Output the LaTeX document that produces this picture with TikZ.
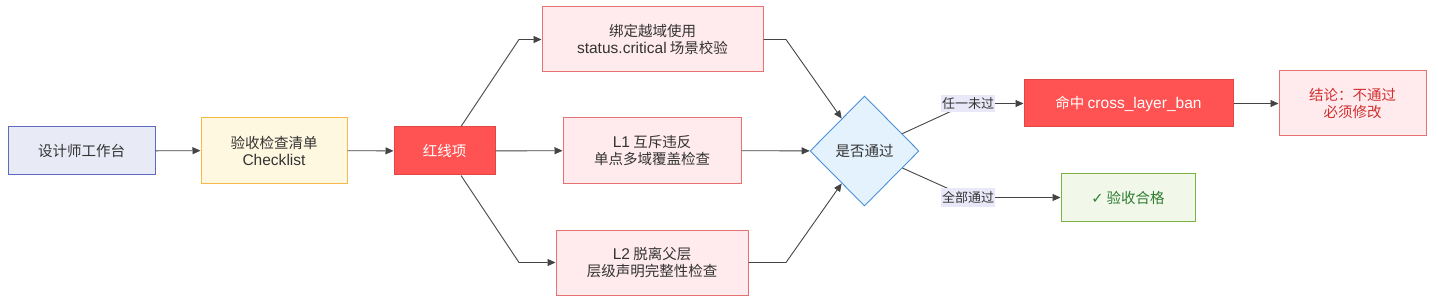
\documentclass[tikz,border=0pt]{standalone}
\usepackage{fontspec}
\setmainfont{Noto Sans CJK SC}
\newfontfamily\symfont{DejaVu Sans}
\newfontfamily\latin[Scale=1.07]{Liberation Sans}
\usetikzlibrary{shapes.geometric,arrows.meta}
\definecolor{deskfill}{HTML}{E8EAF6}
\definecolor{deskline}{HTML}{5C6BC0}
\definecolor{listfill}{HTML}{FFF8E1}
\definecolor{listline}{HTML}{F9B949}
\definecolor{banfill}{HTML}{FF5252}
\definecolor{banline}{HTML}{E04848}
\definecolor{chkfill}{HTML}{FFEBEE}
\definecolor{chkline}{HTML}{E57373}
\definecolor{decfill}{HTML}{E3F2FD}
\definecolor{decline}{HTML}{4A90D9}
\definecolor{okfill}{HTML}{F1F8E9}
\definecolor{okline}{HTML}{7CB342}
\definecolor{oktext}{HTML}{2E7D32}
\definecolor{failtext}{HTML}{D32F2F}
\definecolor{lblfill}{HTML}{E8E8F8}
\definecolor{edgeline}{HTML}{444444}
\tikzset{
  box/.style={rectangle, line width=1pt, align=center, inner sep=0pt,
    font=\fontsize{14.5}{17}\selectfont, text=black!80},
  flow/.style={draw=edgeline, line width=0.9pt, -{Triangle[length=8pt,width=7pt]}},
  edgelbl/.style={fill=lblfill, inner xsep=1pt, inner ysep=3pt,
    font=\fontsize{13}{15}\selectfont, text=black!80}
}
\begin{document}
\begin{tikzpicture}[x=1pt,y=-1pt]
        \useasboundingbox (0,0) rectangle (1438,302);
        % Main line
        \node[box, fill=deskfill, draw=deskline, minimum width=147pt, minimum height=48pt] (desk) at (81.5,151) {设计师工作台};
        \node[box, fill=listfill, draw=listline, minimum width=146pt, minimum height=65pt] (list) at (274,150.5) {验收检查清单\\{\latin Checklist}};
        \node[box, fill=banfill, draw=banline, text=white, minimum width=101pt, minimum height=48pt] (red) at (444.5,151) {红线项};
        % Checks
        \node[box, fill=chkfill, draw=chkline, minimum width=221pt, minimum height=65pt] (bind) at (652.5,39.5) {绑定越域使用\\{\latin status.critical} 场景校验};
        \node[box, fill=chkfill, draw=chkline, minimum width=178pt, minimum height=65pt] (mutex) at (652,150.5) {{\latin L1} 互斥违反\\单点多域覆盖检查};
        \node[box, fill=chkfill, draw=chkline, minimum width=192pt, minimum height=65pt] (parent) at (652,262.5) {{\latin L2} 脱离父层\\层级声明完整性检查};
        % Decision and results
        \node[diamond, fill=decfill, draw=decline, line width=0.9pt, inner sep=0pt, minimum width=109pt, minimum height=110pt,
              font=\fontsize{14.5}{17}\selectfont, text=black!80] (dec) at (864.5,151) {是否通过};
        \node[box, fill=banfill, draw=banline, text=white, minimum width=209pt, minimum height=47pt] (hit) at (1128.5,103.5) {命中 {\latin cross\_layer\_ban}};
        \node[box, fill=chkfill, draw=chkline, text=failtext, minimum width=147pt, minimum height=65pt] (verdict) at (1352.5,103.5) {结论：不通过\\必须修改};
        \node[box, fill=okfill, draw=okline, text=oktext, minimum width=134pt, minimum height=47pt] (pass) at (1128,197.5) {{\symfont ✓} 验收合格};
        % Bend points
        \coordinate (upin) at (519,39.5);
        \coordinate (lowin) at (519,262.5);
        \coordinate (upout) at (786,39.5);
        \coordinate (lowout) at (786,262.5);
        \coordinate (failpt) at (968,103.5);
        \coordinate (passpt) at (968,197.5);
        % Connectors
        \draw[flow] (desk) -- (list);
        \draw[flow] (list) -- (red);
        \draw[flow] ([xshift=16.5pt]red.north) -- (upin) -- (bind);
        \draw[flow] (red) -- (mutex);
        \draw[flow] ([xshift=16.5pt]red.south) -- (lowin) -- (parent);
        \draw[flow] (bind) -- (upout) -- (dec);
        \draw[flow] (mutex) -- (dec);
        \draw[flow] (parent) -- (lowout) -- (dec);
        \draw[flow] (dec) -- (failpt) node[edgelbl] {任一未过} -- (hit);
        \draw[flow] (dec) -- (passpt) node[edgelbl] {全部通过} -- (pass);
        \draw[flow] (hit) -- (verdict);
    \end{tikzpicture}
\end{document}
